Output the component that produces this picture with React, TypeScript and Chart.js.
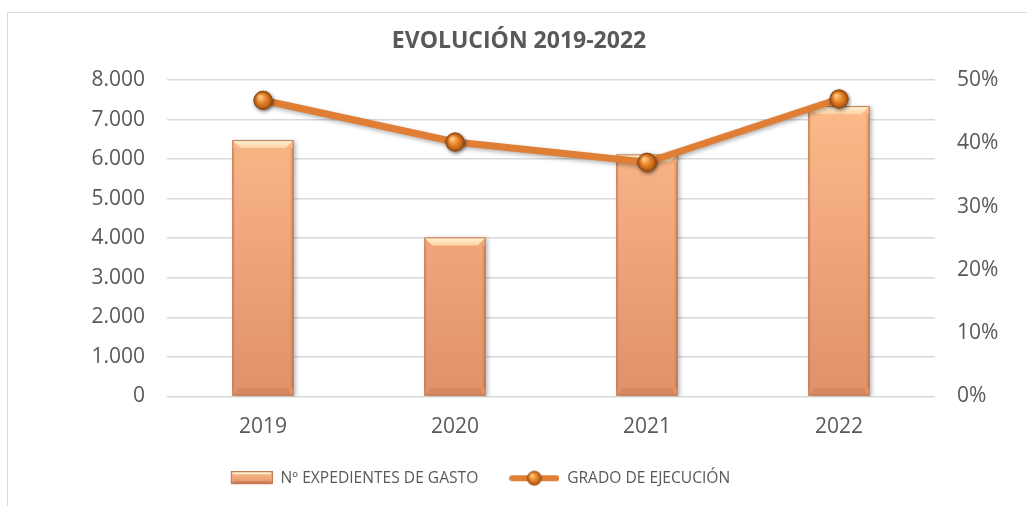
import React, { useEffect, useRef } from "react";
import { Chart, registerables } from "chart.js";

Chart.register(...registerables);

// ---- data ----
const categories = ["2019", "2020", "2021", "2022"];
const expedientesGasto = [6480, 4020, 6120, 7340];
const gradoEjecucion = [0.468, 0.402, 0.37, 0.47];
const seriesNames = ["Nº EXPEDIENTES DE GASTO", "GRADO DE EJECUCIÓN"];
const chartTitle = "EVOLUCIÓN 2019-2022";

const FONT = "'Open Sans', 'Noto Sans', sans-serif";
const TEXT = "#595959";
const LINE_COLOR = "#E07E36";

function fmtThousands(v: number): string {
  return String(Math.round(v)).replace(/\B(?=(\d{3})+(?!\d))/g, ".");
}

function makeBarIcon(): HTMLCanvasElement {
  const c = document.createElement("canvas");
  c.width = 50;
  c.height = 14;
  const ctx = c.getContext("2d")!;
  const l = 8, r = 50, t = 0, b = 13, bv = 3;
  const g = ctx.createLinearGradient(0, t, 0, b);
  g.addColorStop(0, "#FDBE8E");
  g.addColorStop(1, "#E0946A");
  ctx.fillStyle = g;
  ctx.fillRect(l, t, r - l, b - t);
  ctx.fillStyle = "#FFF1CC";
  ctx.beginPath();
  ctx.moveTo(l, t); ctx.lineTo(r, t); ctx.lineTo(r - bv, t + bv); ctx.lineTo(l + bv, t + bv); ctx.closePath();
  ctx.fill();
  ctx.fillStyle = "rgba(170,90,50,0.45)";
  ctx.beginPath();
  ctx.moveTo(l, b); ctx.lineTo(r, b); ctx.lineTo(r - bv, b - bv); ctx.lineTo(l + bv, b - bv); ctx.closePath();
  ctx.fill();
  ctx.strokeStyle = "#C27A50";
  ctx.lineWidth = 1;
  ctx.strokeRect(l + 0.5, t + 0.5, r - l - 1, b - t - 1);
  return c;
}

function drawSphere(ctx: CanvasRenderingContext2D, x: number, y: number, r: number) {
  const g = ctx.createRadialGradient(x - r * 0.35, y - r * 0.4, r * 0.1, x, y, r);
  g.addColorStop(0, "#FFC98A");
  g.addColorStop(0.45, "#EE8A2E");
  g.addColorStop(1, "#A9540F");
  ctx.beginPath();
  ctx.arc(x, y, r, 0, Math.PI * 2);
  ctx.fillStyle = g;
  ctx.fill();
  ctx.lineWidth = 1;
  ctx.strokeStyle = "#9A4E12";
  ctx.stroke();
}

function makeLineIcon(): HTMLCanvasElement {
  const c = document.createElement("canvas");
  c.width = 50;
  c.height = 18;
  const ctx = c.getContext("2d")!;
  ctx.strokeStyle = LINE_COLOR;
  ctx.lineWidth = 6;
  ctx.lineCap = "round";
  ctx.beginPath();
  ctx.moveTo(3, 9);
  ctx.lineTo(47, 9);
  ctx.stroke();
  drawSphere(ctx, 25, 9, 7);
  return c;
}

const framePlugin = {
  id: "frame",
  beforeDraw(chart: any) {
    const { ctx, width, height } = chart;
    ctx.save();
    ctx.fillStyle = "#FFFFFF";
    ctx.fillRect(0, 0, width, height);
    ctx.strokeStyle = "#D9D9D9";
    ctx.lineWidth = 1;
    ctx.strokeRect(7.5, 12.5, width + 20, height + 20);
    ctx.restore();
  },
  afterLayout(chart: any) {
    if (chart.titleBlock) {
      chart.titleBlock.left += 11;
    }
    if (chart.legend) {
      chart.legend.right -= 74;
    }
  },
};

const effectsPlugin = {
  id: "effects",
  beforeDatasetDraw(chart: any, args: any) {
    const ctx = chart.ctx;
    ctx.save();
    if (args.index === 0) {
      ctx.shadowColor = "rgba(0,0,0,0.30)";
      ctx.shadowBlur = 4;
      ctx.shadowOffsetX = 1;
      ctx.shadowOffsetY = 2;
    } else {
      ctx.shadowColor = "rgba(0,0,0,0.25)";
      ctx.shadowBlur = 4;
      ctx.shadowOffsetX = 2;
      ctx.shadowOffsetY = 1;
    }
  },
  afterDatasetDraw(chart: any, args: any) {
    const ctx = chart.ctx;
    ctx.restore();
    const meta = args.meta;
    if (args.index === 1) {
      meta.data.forEach((el: any) => {
        const { x, y, base, width } = el.getProps(["x", "y", "base", "width"], true);
        const l = x - width / 2, r = x + width / 2, t = y, b = base, bv = 8;
        ctx.save();
        const tg = ctx.createLinearGradient(0, t, 0, t + bv);
        tg.addColorStop(0, "#FFF5D6");
        tg.addColorStop(1, "#FFD2A4");
        ctx.fillStyle = tg;
        ctx.beginPath();
        ctx.moveTo(l, t); ctx.lineTo(r, t); ctx.lineTo(r - bv, t + bv); ctx.lineTo(l + bv, t + bv); ctx.closePath();
        ctx.fill();
        ctx.fillStyle = "rgba(175,95,55,0.22)";
        ctx.beginPath();
        ctx.moveTo(l, b); ctx.lineTo(r, b); ctx.lineTo(r - bv, b - bv); ctx.lineTo(l + bv, b - bv); ctx.closePath();
        ctx.fill();
        const sg = ctx.createLinearGradient(r - 4, 0, r, 0);
        sg.addColorStop(0, "rgba(160,85,45,0)");
        sg.addColorStop(1, "rgba(160,85,45,0.45)");
        ctx.fillStyle = sg;
        ctx.fillRect(r - 4, t + bv, 4, b - t - 2 * bv);
        const lg = ctx.createLinearGradient(l, 0, l + 3, 0);
        lg.addColorStop(0, "rgba(160,85,45,0.3)");
        lg.addColorStop(1, "rgba(160,85,45,0)");
        ctx.fillStyle = lg;
        ctx.fillRect(l, t + bv, 3, b - t - 2 * bv);
        ctx.strokeStyle = "#C47C52";
        ctx.lineWidth = 1;
        ctx.strokeRect(l + 0.5, t + 0.5, width - 1, b - t - 1);
        ctx.restore();
      });
    } else if (args.index === 0) {
      meta.data.forEach((el: any) => {
        const { x, y } = el.getProps(["x", "y"], true);
        ctx.save();
        ctx.shadowColor = "rgba(0,0,0,0.3)";
        ctx.shadowBlur = 3;
        ctx.shadowOffsetX = 1;
        ctx.shadowOffsetY = 1;
        drawSphere(ctx, x, y, 9);
        ctx.restore();
      });
    }
  },
};

export default function App() {
  const ref = useRef<HTMLCanvasElement | null>(null);

  useEffect(() => {
    if (!ref.current) return;
    const barIcon = makeBarIcon();
    const lineIcon = makeLineIcon();

    const chart = new Chart(ref.current, {
      type: "bar",
      data: {
        labels: categories,
        datasets: [
          {
            type: "line",
            label: seriesNames[1],
            data: gradoEjecucion,
            yAxisID: "y1",
            borderColor: LINE_COLOR,
            borderWidth: 7,
            pointRadius: 9,
            pointBackgroundColor: "#E8822B",
            pointBorderColor: "#9A4E12",
            pointBorderWidth: 1,
            tension: 0,
            order: 0,
          } as any,
          {
            type: "bar",
            label: seriesNames[0],
            data: expedientesGasto,
            yAxisID: "y",
            order: 1,
            categoryPercentage: 1,
            barPercentage: 0.32,
            borderWidth: 0,
            backgroundColor: (c: any) => {
              const { chart } = c;
              const area = chart.chartArea;
              if (!area) return "#F4AA78";
              const g = chart.ctx.createLinearGradient(0, area.top, 0, area.bottom);
              g.addColorStop(0, "#FFBD8D");
              g.addColorStop(1, "#E0916A");
              return g;
            },
          } as any,
        ],
      },
      options: {
        animation: false,
        responsive: false,
        layout: { padding: { left: 0, right: 0, top: 0, bottom: 10 } },
        font: { family: FONT },
        plugins: {
          tooltip: { enabled: false },
          title: {
            display: true,
            text: chartTitle,
            color: TEXT,
            font: { family: FONT, size: 23, weight: "bold", lineHeight: 1.2 },
            padding: { top: 28, bottom: 24.4 },
          },
          legend: {
            display: true,
            position: "bottom",
            labels: {
              color: TEXT,
              font: { family: FONT, size: 15.6 },
              usePointStyle: true,
              pointStyleWidth: 50,
              padding: 31,
              generateLabels: () => [
                {
                  text: seriesNames[0],
                  pointStyle: barIcon,
                  fillStyle: "#F4AA78",
                  strokeStyle: "#C47C52",
                  lineWidth: 0,
                  hidden: false,
                  datasetIndex: 1,
                  fontColor: TEXT,
                } as any,
                {
                  text: seriesNames[1],
                  pointStyle: lineIcon,
                  fillStyle: LINE_COLOR,
                  strokeStyle: LINE_COLOR,
                  lineWidth: 0,
                  hidden: false,
                  datasetIndex: 0,
                  fontColor: TEXT,
                } as any,
              ],
            },
          },
        },
        scales: {
          x: {
            grid: { display: false, drawTicks: false },
            border: { display: false },
            ticks: { color: TEXT, font: { family: FONT, size: 21 }, padding: 18 },
            afterFit: (s: any) => {
              s.height = 43;
            },
          },
          y: {
            position: "left",
            min: 0,
            max: 8000,
            ticks: {
              stepSize: 1000,
              color: TEXT,
              font: { family: FONT, size: 21 },
              padding: 22,
              callback: (v: any) => fmtThousands(Number(v)),
            },
            grid: { color: "#D9D9D9", lineWidth: 1.5, drawTicks: false },
            border: { display: false },
            afterFit: (s: any) => {
              s.width = 167;
            },
          },
          y1: {
            position: "right",
            min: 0,
            max: 0.5,
            ticks: {
              stepSize: 0.1,
              color: TEXT,
              font: { family: FONT, size: 21 },
              padding: 22,
              callback: (v: any) => Math.round(Number(v) * 100) + "%",
            },
            grid: { display: false, drawTicks: false },
            border: { display: false },
            afterFit: (s: any) => {
              s.width = 92;
            },
          },
        },
      },
      plugins: [framePlugin, effectsPlugin],
    } as any);

    return () => chart.destroy();
  }, []);

  return (
    <div style={{ position: "absolute", left: 0, top: 0, width: 1027, height: 506 }}>
      <canvas ref={ref} width={1027} height={506} style={{ display: "block" }} />
    </div>
  );
}
